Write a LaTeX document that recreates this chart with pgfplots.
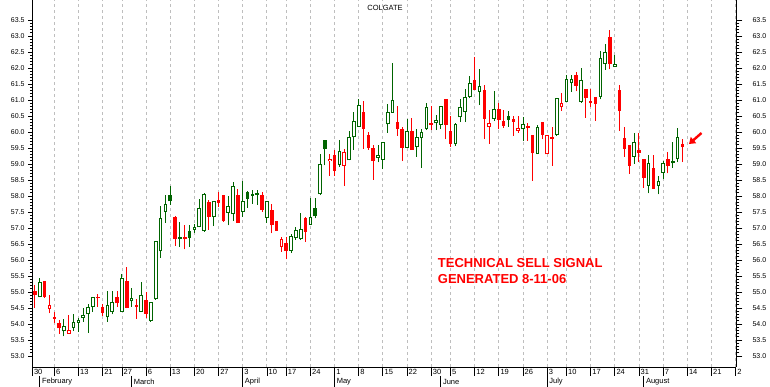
\documentclass[border=0pt]{standalone}
\usepackage{pgfplots}
\pgfplotsset{compat=1.18}
\usepackage{pgfplotstable}
\usepackage{fontspec}
\setmainfont{Liberation Sans}
\usetikzlibrary{arrows.meta}

\definecolor{cg}{RGB}{0,100,0}
\definecolor{cr}{RGB}{255,0,0}
\definecolor{gridc}{RGB}{190,190,190}

% green hollow (close>open, close>=prev close)
\pgfplotstableread{
d o h l c
2 54.83 55.43 54.83 55.32
7 53.77 54.16 53.61 53.93
9 53.88 54.30 53.78 54.05
10 54.04 54.18 53.75 54.12
11 54.20 54.51 54.07 54.28
12 54.30 54.63 53.73 54.53
13 54.54 54.83 54.38 54.83
16 54.21 55.03 54.07 54.58
17 54.37 55.03 54.30 54.68
19 54.38 55.55 54.38 55.45
21 54.71 55.12 54.54 54.80
23 54.38 55.32 54.38 54.91
25 54.09 54.68 54.07 54.68
26 54.77 56.59 54.75 56.59
27 56.27 57.70 56.07 57.30
28 57.51 58.03 57.17 57.75
31 56.67 57.20 56.42 56.69
34 56.95 57.11 56.85 57.03
35 57.02 57.90 57.02 57.62
36 56.90 58.10 56.88 58.06
38 57.34 57.84 57.06 57.84
41 57.48 58.00 57.08 57.69
42 57.43 58.44 57.23 58.31
44 57.51 58.47 57.35 57.85
46 58.01 58.19 57.75 58.05
47 58.04 58.19 57.72 58.07
49 57.32 57.83 57.17 57.83
54 56.29 56.81 56.23 56.76
55 56.68 57.02 56.63 56.94
56 56.65 57.46 56.63 56.97
58 57.10 57.93 57.09 57.35
60 58.06 59.30 58.03 58.99
64 58.97 59.75 58.92 59.41
66 59.11 60.03 59.11 59.83
67 59.83 60.63 59.44 60.34
68 60.17 61.02 60.17 60.83
72 59.18 59.59 59.05 59.27
73 59.13 59.68 58.84 59.68
74 60.24 60.87 59.98 60.62
75 60.60 62.17 60.60 61.00
78 59.51 60.41 59.51 60.03
80 59.54 60.09 59.23 59.83
81 59.80 60.10 58.88 60.00
82 60.10 60.91 60.06 60.78
84 60.27 60.52 60.06 60.37
85 60.23 60.80 60.10 60.80
88 59.62 60.27 59.56 60.25
89 60.46 61.02 60.31 60.77
90 60.62 61.33 60.31 61.10
91 61.10 61.75 61.05 61.54
93 61.26 61.96 60.84 61.43
96 60.42 61.28 60.34 60.71
102 60.08 60.46 59.73 60.24
105 59.31 60.22 59.31 60.17
109 59.91 61.05 59.88 61.05
111 60.93 61.78 60.93 61.65
112 61.52 61.79 61.26 61.66
114 60.95 61.99 60.92 61.61
118 61.10 62.53 61.02 62.30
119 62.12 62.75 61.94 62.49
121 62.03 62.41 62.03 62.13
125 59.23 59.98 59.00 59.70
128 58.32 59.28 58.08 59.02
130 58.32 58.63 58.05 58.46
131 58.73 59.10 58.54 59.02
134 59.15 60.13 59.06 59.83
}\gh

% green filled (close<open, close>=prev close)
\pgfplotstableread{
d o h l c
29 58.03 58.31 57.72 57.83
33 56.91 57.09 56.42 56.70
45 58.12 58.17 57.63 57.90
59 57.62 57.93 57.30 57.36
61 59.75 59.75 58.96 59.46
99 60.49 60.66 60.17 60.37
133 59.09 59.69 58.88 59.02
}\gf

% red hollow (close>open, close<prev close)
\pgfplotstableread{
d o h l c
4 54.48 54.91 54.33 54.58
8 53.70 54.28 53.70 53.80
22 54.54 54.77 54.17 54.57
52 56.42 56.73 56.26 56.66
62 59.09 59.31 58.63 59.16
65 58.95 59.47 58.31 59.38
95 60.15 60.69 59.63 60.27
101 60.04 60.50 59.98 60.12
103 60.12 60.27 59.73 60.17
107 59.30 59.90 59.30 59.90
110 60.77 61.22 60.66 60.90
}\rh

% red filled (close<open, close<prev close)
\pgfplotstableread{
d o h l c
1 55.03 55.22 54.49 54.92
3 55.33 55.34 54.81 54.84
5 54.23 54.38 54.02 54.17
6 54.03 54.13 53.69 53.86
14 54.85 54.94 54.54 54.80
15 54.53 54.63 54.25 54.35
18 54.84 55.03 54.54 54.65
20 55.34 55.79 54.49 54.51
24 54.75 55.01 54.18 54.32
30 57.34 57.38 56.45 56.67
32 56.70 57.09 56.33 56.66
37 57.81 57.88 56.94 57.35
39 57.88 58.13 57.67 57.79
40 58.03 58.03 57.20 57.23
43 58.03 58.22 57.15 57.15
48 58.03 58.13 57.51 57.56
50 57.56 57.74 56.83 57.08
51 57.22 57.22 56.92 56.92
53 56.52 56.71 56.02 56.29
57 57.31 57.35 56.57 56.88
63 59.27 59.44 58.63 58.79
69 60.63 60.97 59.47 60.10
70 59.91 60.00 59.44 59.51
71 59.51 59.59 58.50 59.09
76 60.32 60.81 59.88 60.09
77 60.09 60.17 59.09 59.51
79 60.03 60.43 59.44 59.44
83 60.29 60.81 60.06 60.23
86 61.02 61.02 59.77 60.23
87 60.03 60.50 59.54 59.62
92 61.63 62.35 61.31 61.31
94 61.31 61.47 59.78 60.40
97 60.71 60.92 60.08 60.38
98 60.34 60.69 60.13 60.20
100 60.41 60.49 59.88 60.32
104 59.91 59.91 58.48 59.33
106 60.31 60.31 59.77 59.91
108 59.83 60.15 58.94 59.79
113 61.78 61.88 61.27 61.45
115 61.33 61.33 60.45 61.05
116 60.97 61.35 60.79 60.90
117 61.08 61.08 60.35 60.89
120 62.96 63.19 61.96 62.12
122 61.31 61.47 60.04 60.67
123 59.81 60.15 59.23 59.48
124 59.59 59.59 58.69 58.95
126 59.44 59.98 59.06 59.35
127 59.16 59.16 58.26 58.57
129 58.88 59.28 58.23 58.23
132 59.16 59.38 58.71 58.95
135 59.63 59.78 59.06 59.54
}\rf

\pgfplotsset{
  cbar/.style 2 args={draw=none, mark=none, forget plot,
    error bars/.cd, y dir=plus, y explicit, error mark=none,
    error bar style={solid, line width=#2, draw=#1}},
  yaxstyle/.style={
    at={(32.3pt,20pt)}, anchor=south west,
    scale only axis, width=704pt, height=367pt,
    xmin=0.447, xmax=146.14, ymin=52.656, ymax=64.125,
    hide x axis,
    ytick={53,53.5,54,54.5,55,55.5,56,56.5,57,57.5,58,58.5,59,59.5,60,60.5,61,61.5,62,62.5,63,63.5},
    minor y tick num=4, tick align=outside,
    axis line style={black, line width=0.8pt},
    tick style={black, line width=0.8pt},
    yticklabel style={font=\fontsize{7}{8}\selectfont, inner sep=0pt,
      /pgf/number format/fixed, /pgf/number format/fixed zerofill,
      /pgf/number format/precision=1, /pgf/number format/assume math mode=true},
  },
}

\begin{document}
\begin{tikzpicture}
\path[use as bounding box] (0,0) rectangle (770pt,387pt);

\begin{axis}[
  at={(32.3pt,20pt)}, anchor=south west,
  scale only axis, width=704pt, height=367pt,
  xmin=0.447, xmax=146.14, ymin=52.656, ymax=64.125,
  axis x line*=bottom, axis y line=none,
  clip=false,
  xtick={0.447,5,10,15,19,24,29,34,39,44,49,53,58,63,68,73,78,83,87,92,97,102,107,111,116,121,126,131,136,141,146},
  xticklabels={30,6,13,21,27,6,13,20,27,3,10,17,24,1,8,15,22,30,5,12,19,26,3,10,17,24,31,7,14,21,2},
  ytick=\empty,
  tick align=outside, major tick length=9pt,
  xtick style={black, line width=0.8pt},
  axis line style={black, line width=0.8pt},
  xmajorgrids,
  major grid style={gridc, dash pattern=on 3pt off 3pt, line width=0.9pt},
  xticklabel style={font=\fontsize{7.5}{9}\selectfont, anchor=west, inner sep=0pt, xshift=1.5pt, yshift=4.5pt},
]
% green hollow
\addplot[cbar={cg}{1pt}] table[x=d, y=l, y error expr=\thisrow{h}-\thisrow{l}] {\gh};
\addplot[cbar={cg}{3.6pt}] table[x=d, y expr={min(\thisrow{o},\thisrow{c})}, y error expr={max(abs(\thisrow{c}-\thisrow{o}),0.06)}] {\gh};
\addplot[cbar={white}{1.6pt}] table[x=d, y expr={min(\thisrow{o},\thisrow{c})+0.03125}, y error expr={max(abs(\thisrow{c}-\thisrow{o})-0.0625,0)}] {\gh};
% green filled
\addplot[cbar={cg}{1pt}] table[x=d, y=l, y error expr=\thisrow{h}-\thisrow{l}] {\gf};
\addplot[cbar={cg}{3.6pt}] table[x=d, y expr={min(\thisrow{o},\thisrow{c})}, y error expr={max(abs(\thisrow{c}-\thisrow{o}),0.05)}] {\gf};
% red hollow
\addplot[cbar={cr}{1pt}] table[x=d, y=l, y error expr=\thisrow{h}-\thisrow{l}] {\rh};
\addplot[cbar={cr}{3.6pt}] table[x=d, y expr={min(\thisrow{o},\thisrow{c})}, y error expr={max(abs(\thisrow{c}-\thisrow{o}),0.06)}] {\rh};
\addplot[cbar={white}{1.6pt}] table[x=d, y expr={min(\thisrow{o},\thisrow{c})+0.03125}, y error expr={max(abs(\thisrow{c}-\thisrow{o})-0.0625,0)}] {\rh};
% red filled
\addplot[cbar={cr}{1pt}] table[x=d, y=l, y error expr=\thisrow{h}-\thisrow{l}] {\rf};
\addplot[cbar={cr}{3.6pt}] table[x=d, y expr={min(\thisrow{o},\thisrow{c})}, y error expr={max(abs(\thisrow{c}-\thisrow{o}),0.05)}] {\rf};

% month row
\draw[black, line width=0.8pt] ([yshift=-9pt]axis cs:2,52.656) -- ([yshift=-20pt]axis cs:2,52.656);
\draw[black, line width=0.8pt] ([yshift=-9pt]axis cs:21,52.656) -- ([yshift=-20pt]axis cs:21,52.656);
\draw[black, line width=0.8pt] ([yshift=-9pt]axis cs:44,52.656) -- ([yshift=-20pt]axis cs:44,52.656);
\draw[black, line width=0.8pt] ([yshift=-9pt]axis cs:63,52.656) -- ([yshift=-20pt]axis cs:63,52.656);
\draw[black, line width=0.8pt] ([yshift=-9pt]axis cs:85,52.656) -- ([yshift=-20pt]axis cs:85,52.656);
\draw[black, line width=0.8pt] ([yshift=-9pt]axis cs:107,52.656) -- ([yshift=-20pt]axis cs:107,52.656);
\draw[black, line width=0.8pt] ([yshift=-9pt]axis cs:127,52.656) -- ([yshift=-20pt]axis cs:127,52.656);
\begin{scope}[every node/.style={anchor=west, inner sep=0pt, font=\fontsize{7.5}{9}\selectfont}]
\node at ([xshift=2pt,yshift=-14.5pt]axis cs:2,52.656) {February};
\node at ([xshift=2pt,yshift=-14.5pt]axis cs:21,52.656) {March};
\node at ([xshift=2pt,yshift=-14.5pt]axis cs:44,52.656) {April};
\node at ([xshift=2pt,yshift=-14.5pt]axis cs:63,52.656) {May};
\node at ([xshift=2pt,yshift=-14.5pt]axis cs:85,52.656) {June};
\node at ([xshift=2pt,yshift=-14.5pt]axis cs:107,52.656) {July};
\node at ([xshift=2pt,yshift=-14.5pt]axis cs:127,52.656) {August};
\end{scope}
\end{axis}

% left price axis
\begin{axis}[yaxstyle, axis y line*=left, major tick length=4pt, minor tick length=2.3pt,
  yticklabel style={xshift=-3.5pt}]
\end{axis}
% right price axis
\begin{axis}[yaxstyle, axis y line*=right, major tick length=6pt, minor tick length=3pt,
  yticklabel style={xshift=10pt}]
\end{axis}

\node[font=\fontsize{7.5}{9}\selectfont] at (385pt,379pt) {COLGATE};
\node[anchor=base west, inner sep=0pt, text=cr, font=\bfseries\fontsize{13}{15}\selectfont] at (437.7pt,119.5pt) {TECHNICAL SELL SIGNAL};
\node[anchor=base west, inner sep=0pt, text=cr, font=\bfseries\fontsize{13}{15}\selectfont] at (437.7pt,103pt) {GENERATED 8-11-06};
\draw[cr, line width=2.4pt, -{Triangle[length=6pt,width=8pt]}] (701.5pt,254pt) -- (689pt,243pt);
\end{tikzpicture}
\end{document}
